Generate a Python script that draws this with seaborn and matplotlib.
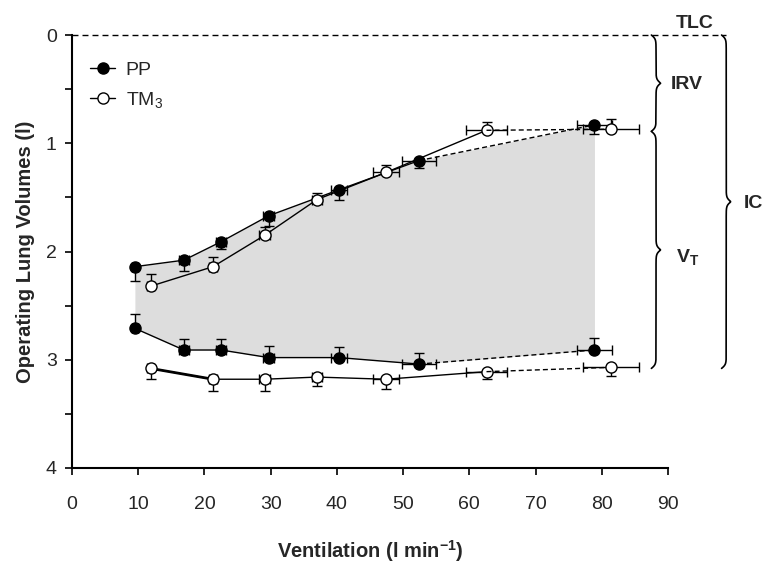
import numpy as np
import matplotlib
matplotlib.use("Agg")
import matplotlib.pyplot as plt
import seaborn as sns

# ventilation (l/min) at each exercise stage, with SE
pp_vent = [9.5, 16.9, 22.5, 29.7, 40.3, 52.4, 78.9]
pp_vent_se = [0.5, 0.7, 0.7, 0.8, 1.2, 2.5, 2.7]
tm_vent = [11.9, 21.3, 29.1, 37.0, 47.4, 62.6, 81.4]
tm_vent_se = [0.5, 0.6, 0.8, 0.8, 2.0, 3.1, 4.3]

# end-inspiratory lung volume (upper curves), below TLC
pp_eilv = [2.14, 2.08, 1.91, 1.67, 1.43, 1.16, 0.83]
pp_eilv_se = [0.13, 0.10, 0.07, 0.09, 0.09, 0.07, 0.08]
tm_eilv = [2.32, 2.14, 1.85, 1.52, 1.27, 0.88, 0.87]
tm_eilv_se = [0.11, 0.09, 0.08, 0.06, 0.07, 0.08, 0.09]

# end-expiratory lung volume (lower curves)
pp_eelv = [2.71, 2.91, 2.91, 2.98, 2.98, 3.04, 2.91]
pp_eelv_se = [0.13, 0.10, 0.10, 0.11, 0.10, 0.10, 0.11]
tm_eelv = [3.08, 3.18, 3.18, 3.16, 3.18, 3.11, 3.07]
tm_eelv_se = [0.10, 0.11, 0.11, 0.08, 0.09, 0.07, 0.08]

sns.set_style("ticks")
plt.rcParams["font.family"] = ["Liberation Sans", "DejaVu Sans"]
plt.rcParams["mathtext.fontset"] = "custom"
plt.rcParams["mathtext.rm"] = "Liberation Sans"
plt.rcParams["mathtext.it"] = "Liberation Sans:italic"
plt.rcParams["mathtext.bf"] = "Liberation Sans:bold"

FS = 14
LABEL_FS = 14.5
DASH = (0, (3.6, 2.2))


def draw_series(ax, vent, vent_se, vol, err_lo, err_hi, face):
    """error bars, solid line for stages 1-6, dashed to the last stage"""
    ax.errorbar(vent, vol, xerr=vent_se, yerr=[err_lo, err_hi], fmt="none",
                ecolor="black", elinewidth=1, capsize=3.5, capthick=1, zorder=2)
    sns.lineplot(x=vent[:6], y=vol[:6], color="black", lw=1, marker="o",
                 markersize=8, markerfacecolor=face, markeredgecolor="black",
                 markeredgewidth=1, ax=ax, zorder=3)
    line = ax.lines[-1]
    sns.lineplot(x=vent[5:], y=vol[5:], color="black", lw=1, linestyle=DASH,
                 marker="o", markevery=[1], markersize=8, markerfacecolor=face,
                 markeredgecolor="black", markeredgewidth=1, ax=ax, zorder=3)
    return line


def curly_brace(ax, x, y0, y1, width=1.4, beta=55):
    ys = np.linspace(y0, y1, 600)
    ym = (y0 + y1) / 2
    d_end = np.minimum(ys - y0, y1 - ys)
    d_mid = np.abs(ys - ym)
    s = 1 / (1 + np.exp(-beta * d_end)) + 1 / (1 + np.exp(beta * d_mid))
    ax.plot(x + width * (s - 1), ys, color="black", lw=1.2, clip_on=False)


fig = plt.figure(figsize=(7.66, 5.65), dpi=100)
ax = fig.add_axes([0.094, 0.1717, 0.778, 0.7663])

# shaded tidal area of PP
ax.fill_between(pp_vent, pp_eilv, pp_eelv, color="#dddddd", lw=0, zorder=1)

zeros = [0] * len(pp_vent)
pp_line = draw_series(ax, pp_vent, pp_vent_se, pp_eilv, zeros, pp_eilv_se, "black")
draw_series(ax, pp_vent, pp_vent_se, pp_eelv, pp_eelv_se, zeros, "black")
tm_line = draw_series(ax, tm_vent, tm_vent_se, tm_eilv, tm_eilv_se, zeros, "white")
draw_series(ax, tm_vent, tm_vent_se, tm_eelv, zeros, tm_eelv_se, "white")
# the first TM3 expiratory segment is drawn heavier in the original
sns.lineplot(x=tm_vent[:2], y=tm_eelv[:2], color="black", lw=2, ax=ax, zorder=2)

# TLC reference line
ax.plot([0, 98.8], [0, 0], color="black", lw=1, linestyle=(0, (4.3, 2.9)),
        clip_on=False, zorder=2)

# volume braces on the right
curly_brace(ax, 88.2, 0.0, 0.89)
curly_brace(ax, 88.2, 0.89, 3.08)
curly_brace(ax, 98.8, 0.0, 3.08)
ax.text(94.0, -0.11, "TLC", fontsize=FS, fontweight="bold", ha="center", va="center")
ax.text(92.9, 0.46, "IRV", fontsize=FS, fontweight="bold", ha="center", va="center")
ax.text(93.0, 2.05, r"$\mathbf{V_T}$", fontsize=FS, ha="center", va="center")
ax.text(102.9, 1.555, "IC", fontsize=FS, fontweight="bold", ha="center", va="center")

ax.set_xlim(0, 90)
ax.set_ylim(4, 0)
ax.set_xticks(range(0, 91, 10))
ax.set_yticks([0, 1, 2, 3, 4])
ax.set_yticks([0.5, 1.5, 2.5, 3.5], minor=True)
ax.tick_params(axis="both", which="both", direction="out", length=5, width=1.2,
               labelsize=FS, color="black")
ax.tick_params(axis="x", pad=15)
ax.tick_params(axis="y", pad=6)
sns.despine(ax=ax)
for side in ["left", "bottom"]:
    ax.spines[side].set_linewidth(1.5)
    ax.spines[side].set_color("black")

ax.set_xlabel(r"Ventilation (l min$^{\mathbf{-1}}$)", fontsize=LABEL_FS,
              fontweight="bold", labelpad=18)
ax.set_ylabel("Operating Lung Volumes (l)", fontsize=LABEL_FS, fontweight="bold",
              labelpad=8)

ax.legend([pp_line, tm_line], ["PP", "TM$_3$"], loc="upper left",
          bbox_to_anchor=(0.03, 0.94), frameon=False, fontsize=FS,
          handlelength=1.3, handletextpad=0.55, labelspacing=0.6,
          borderpad=0, borderaxespad=0)

fig.savefig("out.png", dpi=100)
